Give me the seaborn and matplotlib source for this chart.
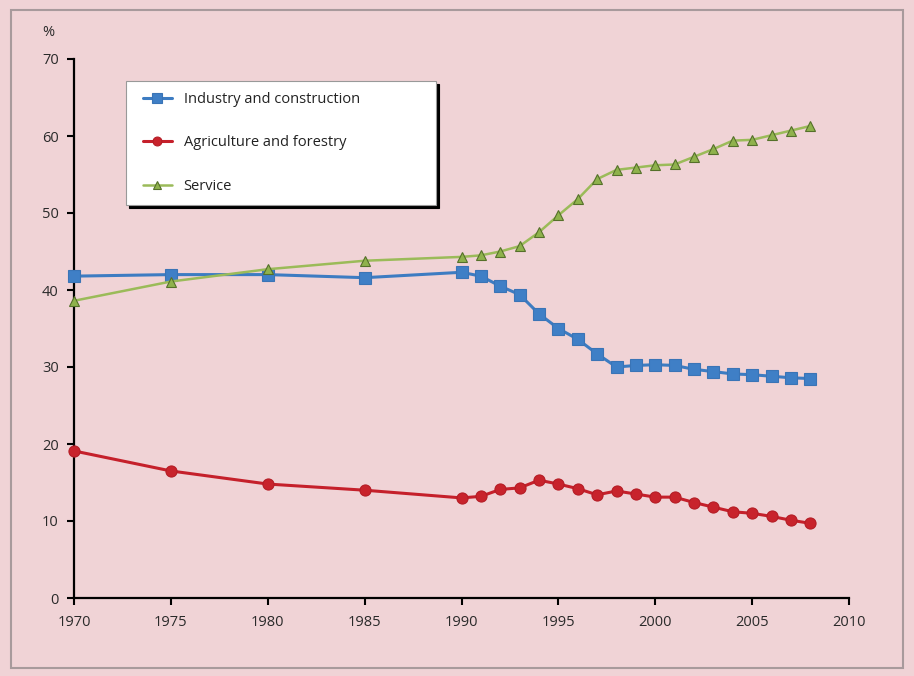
import matplotlib
matplotlib.use("Agg")
import matplotlib.pyplot as plt
import matplotlib.patches as mpatches
from matplotlib.lines import Line2D
from matplotlib.legend_handler import HandlerLine2D
import pandas as pd
import seaborn as sns

years = [1970, 1975, 1980, 1985, 1990, 1991, 1992, 1993, 1994, 1995, 1996,
         1997, 1998, 1999, 2000, 2001, 2002, 2003, 2004, 2005, 2006, 2007, 2008]
industry = [41.8, 42.0, 42.0, 41.6, 42.3, 41.8, 40.5, 39.4, 36.9, 35.0, 33.6,
            31.7, 30.0, 30.2, 30.3, 30.2, 29.7, 29.4, 29.1, 29.0, 28.8, 28.6, 28.5]
agriculture = [19.1, 16.5, 14.8, 14.0, 13.0, 13.2, 14.1, 14.3, 15.3, 14.8, 14.2,
               13.4, 13.9, 13.5, 13.1, 13.1, 12.4, 11.8, 11.2, 11.0, 10.6, 10.1, 9.7]
service = [38.6, 41.1, 42.7, 43.8, 44.3, 44.5, 45.0, 45.7, 47.5, 49.7, 51.8,
           54.4, 55.6, 55.9, 56.2, 56.3, 57.3, 58.3, 59.4, 59.5, 60.1, 60.7, 61.3]
series_names = ["Industry and construction", "Agriculture and forestry", "Service"]
x_ticks = [1970, 1975, 1980, 1985, 1990, 1995, 2000, 2005, 2010]
y_ticks = [0, 10, 20, 30, 40, 50, 60, 70]

df = pd.DataFrame({"Year": years,
                   series_names[0]: industry,
                   series_names[1]: agriculture,
                   series_names[2]: service})
long_df = df.melt(id_vars="Year", var_name="Sector", value_name="Share")

bg = "#f0d3d6"
sns.set_style("ticks")
plt.rcParams["font.family"] = ["Open Sans", "DejaVu Sans"]

fig = plt.figure(figsize=(9.14, 6.76), dpi=100, facecolor=bg)
ax = fig.add_axes([74 / 914, 1 - 598 / 676, 775 / 914, 539 / 676])
ax.set_facecolor(bg)

# line colour, marker, marker face, marker edge, line width, marker size
styles = {
    series_names[0]: ("#3d7cc2", "s", "#3f7fc6", "#3a74b6", 2.2, 8.5),
    series_names[1]: ("#c5202b", "o", "#c8232c", "#b51d26", 2.2, 8.0),
    series_names[2]: ("#9bbb59", "^", "#8fb24c", "#55702a", 1.8, 7.5),
}
for name in series_names:
    color, marker, mfc, mec, lw, ms = styles[name]
    sns.lineplot(data=long_df[long_df["Sector"] == name], x="Year", y="Share",
                 ax=ax, color=color, marker=marker, markerfacecolor=mfc,
                 markeredgecolor=mec, markeredgewidth=0.8, linewidth=lw,
                 markersize=ms, label=name, clip_on=False, zorder=3)

ax.set_xlim(1970, 2010)
ax.set_ylim(0, 70)
ax.set_xticks(x_ticks)
ax.set_yticks(y_ticks)
ax.set(xlabel="", ylabel="")
sns.despine(ax=ax)
for side in ["left", "bottom"]:
    ax.spines[side].set_linewidth(1.6)
    ax.spines[side].set_color("black")
ax.tick_params(axis="both", colors="black", width=1.5, length=5,
               labelsize=10.5, labelcolor="#2a2a2a")
ax.tick_params(axis="y", pad=6)
ax.tick_params(axis="x", pad=7)

fig.text(42 / 914, 1 - 32 / 676, "%", fontsize=10.5, color="#2a2a2a",
         va="center", ha="left")

leg = ax.legend(loc="upper left", bbox_to_anchor=(0.067, 0.731, 0.4, 0.228),
                mode="expand", fontsize=10.5, labelspacing=1.95,
                handlelength=2.4, handletextpad=0.8, borderpad=0.75,
                borderaxespad=0, fancybox=False, framealpha=1,
                edgecolor="#999999", markerscale=0.8,
                handler_map={Line2D: HandlerLine2D(xpad=0.41)},
                shadow={"facecolor": "black", "edgecolor": "black", "alpha": 1})
leg.get_frame().set_linewidth(0.8)
leg.set_zorder(5)
for t in leg.get_texts():
    t.set_color("#222222")

border = mpatches.Rectangle((11 / 914, 1 - 668 / 676), 892 / 914, 658 / 676,
                            transform=fig.transFigure, fill=False,
                            edgecolor="#a89a9c", linewidth=1.5)
fig.patches.append(border)

plt.savefig("out.png", dpi=100, facecolor=bg)
